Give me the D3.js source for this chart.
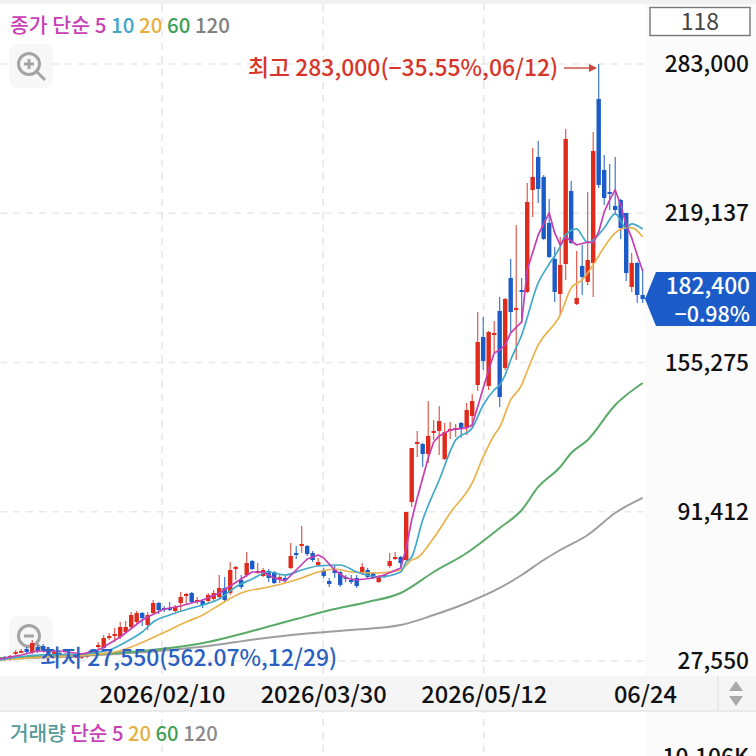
<!DOCTYPE html>
<html><head><meta charset="utf-8">
<script src="https://cdn.jsdelivr.net/npm/d3@7"></script>
<style>html,body{margin:0;padding:0;background:#fff;overflow:hidden}svg{display:block}text{font-family:"Noto Sans CJK KR","Noto Sans",sans-serif}</style>
</head><body><svg id="c" width="756" height="756"></svg>
<script>
const priceTicks=[27550,91412,155275,219137,283000];
const dateTickIdx=[29.6,58.9,88.1,117.4];
const dateLabels=["2026/02/10","2026/03/30","2026/05/12","06/24"];
const opens=[29260,29260,27980,30970,31400,32690,31400,33540,33970,32690,30120,30970,29690,30120,29260,29260,29690,30540,33540,33110,37390,38250,37820,39960,42100,44240,48090,42960,48090,52370,50230,50230,48950,52370,55370,56650,52800,53230,53230,54080,54940,58790,56650,66920,62210,64350,70340,65210,63920,66060,65640,62640,63070,67350,73770,76760,76760,73770,68630,66490,61780,66490,65640,63500,62210,63070,65210,66490,65210,61360,64350,68200,71200,72050,70770,95590,120410,120410,116130,125120,125970,113990,125970,126400,129400,127680,132390,145660,166200,145230,167050,177330,152930,191450,177760,186310,185460,229100,243230,234670,215000,199580,184600,197440,228680,180320,196580,189740,197860,268050,237660,228250,222260,224830,219260,187600,197860,184180];
const closes=[28400,27980,29690,31400,31830,31400,35250,31830,32260,30970,31400,29690,30120,28830,29690,29690,30120,31400,34400,37390,38250,39100,42100,42100,47230,48090,45950,47230,52370,49370,49370,49370,50660,54940,56220,52800,53650,51510,55790,56650,58790,53650,66490,67780,59220,69490,66920,66060,66490,63070,60930,63500,62210,72480,72910,77620,73340,70770,69920,63920,60500,65210,60070,62640,61360,59640,67780,63500,63070,63500,63500,70340,72050,69490,91310,118700,121270,116130,123840,125970,130250,125550,126830,127260,127260,134960,138810,164060,155930,168340,167910,140530,182460,176900,178610,185460,223970,234670,229530,208130,200440,185460,197010,250930,206430,182890,191870,199150,245790,231250,225680,227400,220540,212840,193590,197860,184180,182400];
const highs=[30120,29690,30120,32260,32690,33540,36540,34400,34820,33540,32260,31830,30970,30540,30540,30540,30970,31830,35680,38680,39530,41670,44240,44670,48520,48950,48520,48520,53650,52800,51090,52800,51510,57080,56650,57080,54940,54080,56650,57930,64350,63500,69920,68200,64350,74190,70770,69490,67350,66920,66060,64350,64350,78050,76760,85320,77190,74620,71630,67350,63070,68630,66060,64350,64350,64350,69490,67350,65640,64350,64780,73770,74190,72480,91310,118700,125970,120840,138810,130680,136670,129400,129830,128970,129830,137950,141810,176900,174760,168770,173050,183320,182890,199580,214130,191450,232110,247080,250080,235520,225260,204710,208990,255210,232960,203000,205560,228250,253930,283000,244080,240230,243230,225260,219260,202150,198290,194880];
const lows=[27550,27550,27550,30120,30970,30540,30540,30970,31400,30120,29690,28830,28830,28400,28830,28400,28830,29690,32260,32260,36540,35680,36960,39100,41240,43380,42530,40820,47230,47660,48520,48950,48520,48520,51510,52370,51940,50230,52370,53230,54080,53230,55790,62210,58360,63500,66490,64780,63500,61360,60500,60930,60930,66920,71200,73770,72480,69920,68200,63070,59220,63070,59220,61360,60500,58790,64350,63070,62640,60930,63070,67350,70770,67350,70340,93450,114850,110570,112280,122120,115700,113560,122550,123400,122980,124260,127680,143090,152080,143520,159780,136240,152080,168340,156360,172620,185030,217570,223540,207700,200000,181180,175190,190600,206000,179890,184180,188460,183320,229960,222680,220540,218400,208130,190170,185460,180750,180750];
const ma5=[[0,28400],[4,30120],[7,31830],[11,31830],[15,30540],[18,32260],[19,33540],[22,37820],[26,45100],[27,46380],[30,49800],[33,51090],[37,53650],[40,56650],[44,62640],[46,65640],[48,65640],[50,63070],[52,61790],[54,66490],[56,71200],[58,72910],[59,71630],[61,66490],[63,63070],[65,62210],[68,63070],[70,64350],[73,67350],[74,75910],[75,87890],[76,97310],[77,105870],[78,114430],[79,121270],[80,123850],[82,126420],[85,127270],[86,128550],[89,152080],[90,159360],[91,160640],[92,162780],[93,167920],[95,172630],[96,194880],[98,209860],[100,219280],[101,210710],[102,205570],[103,208990],[105,205570],[107,206850],[108,206430],[109,211140],[110,219700],[111,224830],[112,229110],[113,222690],[114,214130],[115,208570],[116,201290],[117,194450]];
const ma10=[[0,27980],[7,30120],[15,30540],[18,31400],[20,32260],[22,34400],[24,36960],[26,39960],[28,44240],[31,47230],[35,50230],[37,51510],[40,54080],[43,59220],[46,62640],[49,65640],[52,64350],[55,66490],[58,68210],[62,68630],[65,65640],[69,63500],[73,65640],[74,69920],[75,72050],[77,87890],[80,105010],[83,122130],[86,127270],[88,137100],[90,143520],[91,145660],[92,149940],[93,156360],[95,167060],[98,189310],[100,197440],[102,204720],[103,209860],[105,212430],[106,209430],[107,206430],[108,207710],[110,212850],[112,218840],[114,212850],[115,214560],[117,212430]];
const ma20=[[0,27980],[8,29260],[18,30540],[21,31400],[24,33540],[29,38680],[34,44240],[37,47230],[40,51510],[44,56650],[49,59220],[52,60930],[55,63070],[58,65640],[61,66920],[64,65640],[69,65210],[73,66490],[75,70770],[76,71630],[79,80190],[82,90890],[86,103730],[88,114850],[90,124260],[91,127690],[93,139240],[95,145660],[96,151650],[98,162780],[102,175610],[104,187170],[106,190600],[108,197020],[110,204720],[112,210710],[114,212850],[115,212850],[117,208990]];
const ma60=[[0,28830],[9,29690],[18,30540],[31,33110],[38,35680],[46,40390],[54,45520],[61,49800],[67,52800],[73,56650],[79,65640],[85,73770],[91,84470],[95,92170],[98,102020],[102,110570],[104,116570],[107,122130],[112,137100],[117,146510]];
const ma120=[[0,28400],[18,30120],[29,31830],[38,33970],[47,36960],[55,39100],[64,40820],[73,42960],[79,47230],[85,52370],[91,58790],[95,64350],[99,70770],[102,75050],[107,81470],[112,90890],[117,97310]];
const priceLegend=[["종가 단순 5","#c93fb5"],[" 10","#3ea6c9"],[" 20","#e6b040"],[" 60","#3f9f55"],[" 120","#808080"]];
const volumeLegend=[["거래량","#559a9a"],[" 단순 5","#c93fb5"],[" 20","#e6b040"],[" 60","#3f9f55"],[" 120","#8a8a8a"]];

const RED="#e02b1c",BLUE="#1b5cc9";
const svg=d3.select("#c");
const x=d3.scaleLinear().domain([0,117]).range([-0.8,642.7]);
const y=d3.scaleLinear().domain([27550,283000]).range([661,64]);
const fs=22.7;

// right panel and top rule
svg.append("rect").attr("x",645).attr("y",0).attr("width",111).attr("height",756).attr("fill","#fbfbfb");
svg.append("rect").attr("x",0).attr("y",0).attr("width",756).attr("height",4).attr("fill","#f1f1f1");
// grid
const grid=svg.append("g").attr("fill","none");
grid.selectAll("line.h").data(priceTicks).join("line").attr("x1",0).attr("x2",645).attr("y1",d=>y(d)).attr("y2",d=>y(d)).attr("stroke","#e9e9e9").attr("stroke-width",1.4).attr("stroke-dasharray","7 6");
grid.selectAll("line.v").data(dateTickIdx.slice(0,3)).join("line").attr("x1",d=>x(d)).attr("x2",d=>x(d)).attr("y1",4).attr("y2",756).attr("stroke","#dedede").attr("stroke-width",1.2).attr("stroke-dasharray","7 6");

// zoom buttons
function zoomBtn(cy,minus){const g=svg.append("g");
 g.append("rect").attr("x",9).attr("y",cy-20).attr("width",44).attr("height",44).attr("rx",9).attr("fill","#f7f7f7");
 g.append("circle").attr("cx",29).attr("cy",cy).attr("r",10.5).attr("fill","none").attr("stroke","#a4a4a4").attr("stroke-width",3);
 g.append("line").attr("x1",37).attr("y1",cy+8).attr("x2",45).attr("y2",cy+16).attr("stroke","#a4a4a4").attr("stroke-width",3);
 g.append("line").attr("x1",24).attr("x2",34).attr("y1",cy).attr("y2",cy).attr("stroke","#a4a4a4").attr("stroke-width",3);
 if(!minus)g.append("line").attr("x1",29).attr("x2",29).attr("y1",cy-5).attr("y2",cy+5).attr("stroke","#a4a4a4").attr("stroke-width",3);}
zoomBtn(64,false);zoomBtn(636,true);

// plot
const defs=svg.append("defs");defs.append("clipPath").attr("id","pl").append("rect").attr("x",0).attr("y",4).attr("width",645).attr("height",670);
const plot=svg.append("g").attr("clip-path","url(#pl)");
const rows=d3.range(opens.length).map(i=>({i,o:opens[i],c:closes[i],h:highs[i],l:lows[i]}));
plot.selectAll("line.w").data(rows).join("line").attr("class","w").attr("x1",d=>x(d.i)).attr("x2",d=>x(d.i)).attr("y1",d=>y(d.h)).attr("y2",d=>y(d.l)).attr("stroke",d=>d.c>=d.o?"#e04a3c":"#2e6bd0").attr("stroke-width",1.1);
plot.selectAll("rect.b").data(rows).join("rect").attr("class","b").attr("x",d=>x(d.i)-2.2).attr("width",4.4).attr("y",d=>y(Math.max(d.o,d.c))).attr("height",d=>Math.max(1.8,Math.abs(y(d.o)-y(d.c)))).attr("fill",d=>d.c>=d.o?RED:BLUE);
const line=d3.line().x(d=>x(d[0])).y(d=>y(d[1]));
const smooth=d3.line().x(d=>x(d[0])).y(d=>y(d[1])).curve(d3.curveMonotoneX);
[[ma120,"#9e9e9e",2,smooth],[ma60,"#5aaa68",2,smooth],[ma20,"#e9b24a",1.7,smooth],[ma10,"#42a8c8",1.7,smooth],[ma5,"#c63fb2",1.7,line]].forEach(([d,c,w,g])=>{
 plot.append("path").attr("d",g(d)).attr("fill","none").attr("stroke",c).attr("stroke-width",w).attr("stroke-linejoin","round");});

// axis bar
svg.append("rect").attr("x",0).attr("y",676).attr("width",756).attr("height",35).attr("fill","#f5f5f5");
svg.append("line").attr("x1",0).attr("x2",756).attr("y1",711).attr("y2",711).attr("stroke","#e6e6e6").attr("stroke-width",1.5);
svg.append("line").attr("x1",718).attr("x2",718).attr("y1",676).attr("y2",711).attr("stroke","#e4e4e4").attr("stroke-width",1.5);
svg.append("path").attr("d","M729 691 L736 681 L743 691 Z").attr("fill","#aaaaaa");
svg.append("path").attr("d","M729 696 L736 706 L743 696 Z").attr("fill","#aaaaaa");

// axes
const xAxis=d3.axisBottom(x).tickValues(dateTickIdx).tickSize(0).tickFormat((d,i)=>dateLabels[i]);
const gx=svg.append("g").attr("transform","translate(0,694)").call(xAxis);
gx.select(".domain").remove();
gx.selectAll("text").attr("y",0).attr("dy","0.36em").attr("font-size",23.6).attr("font-weight",500).attr("fill","#111").style("font-family",'"Noto Sans CJK KR"');
const yAxis=d3.axisLeft(y).tickValues(priceTicks).tickSize(0).tickFormat(d3.format(","));
const gy=svg.append("g").attr("transform","translate(749,0)").call(yAxis);
gy.select(".domain").remove();
gy.selectAll("text").attr("x",0).attr("dy","0.33em").attr("font-size",fs).attr("font-weight",500).attr("fill","#111").style("font-family",'"Noto Sans CJK KR"');

// price tag
svg.append("path").attr("d","M645 299 L656 272 L756 272 L756 326 L656 326 Z").attr("fill",BLUE);
svg.append("text").attr("x",750).attr("y",294).attr("text-anchor","end").attr("font-size",fs).attr("font-weight",500).attr("fill","#fff").text(d3.format(",")(closes[117]));
svg.append("text").attr("x",750).attr("y",322).attr("text-anchor","end").attr("font-size",21.5).attr("font-weight",500).attr("fill","#fff").text("−0.98%");

// count box
svg.append("rect").attr("x",650).attr("y",7.5).attr("width",100).attr("height",28).attr("fill","#fff").attr("stroke","#777").attr("stroke-width",1.4);
svg.append("text").attr("x",700).attr("y",30).attr("text-anchor","middle").attr("font-size",23).attr("fill","#444").text("118");

// legends
function legend(items,tx,ty,sz){const t=svg.append("text").attr("x",tx).attr("y",ty).attr("font-size",sz).attr("font-weight",500).attr("xml:space","preserve").style("white-space","pre");
 items.forEach(([s,c])=>t.append("tspan").attr("fill",c).text(s));}
legend(priceLegend,10,33,20.5);legend(volumeLegend,10,741,20.2);

// min/max
svg.append("text").attr("x",248).attr("y",76).attr("font-size",22.9).attr("font-weight",500).attr("fill","#d6352a").text("최고 283,000(−35.55%,06/12)");
svg.append("line").attr("x1",564).attr("x2",594).attr("y1",68).attr("y2",68).attr("stroke","#c9473c").attr("stroke-width",1.4);
svg.append("path").attr("d","M597 68 L589 64 L589 72 Z").attr("fill","#c9473c");
svg.append("text").attr("x",40).attr("y",666).attr("font-size",22.9).attr("font-weight",500).attr("fill","#2b5fc2").text("최저 27,550(562.07%,12/29)");

// clipped volume axis label
svg.append("text").attr("x",749).attr("y",765).attr("text-anchor","end").attr("font-size",fs).attr("font-weight",500).attr("fill","#111").text("10,106K");
</script></body></html>
